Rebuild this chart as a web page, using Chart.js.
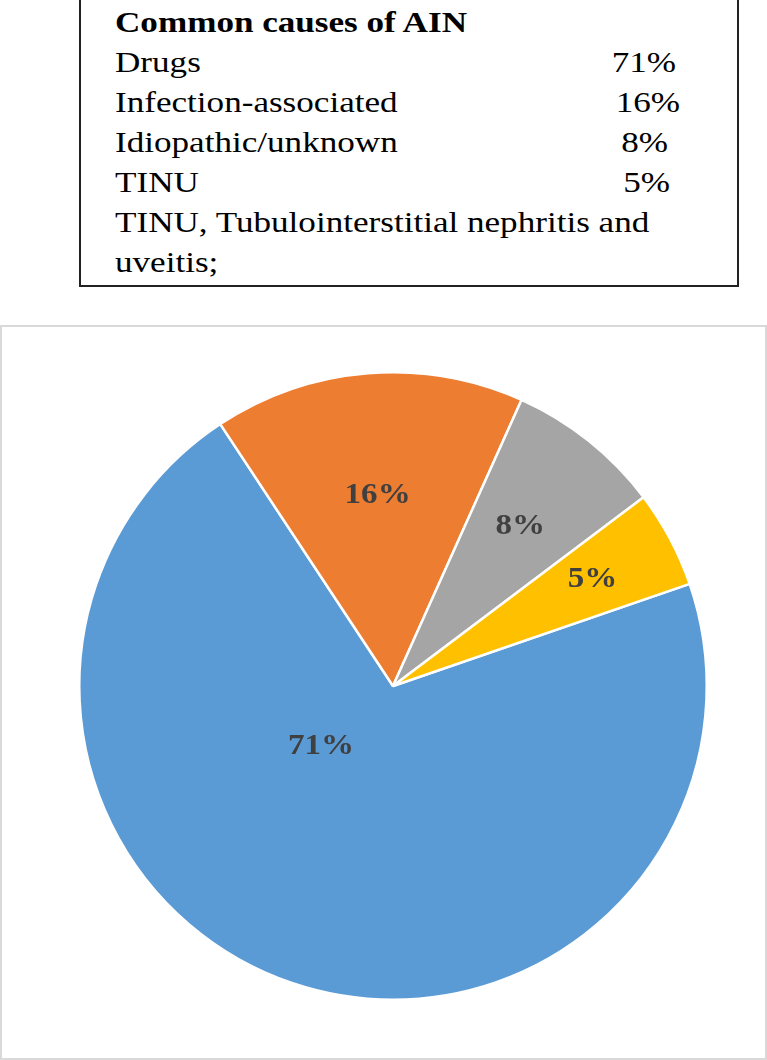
<!DOCTYPE html>
<html>
<head>
<meta charset="utf-8">
<script src="https://cdn.jsdelivr.net/npm/chart.js@4"></script>
<style>
  html, body { margin: 0; padding: 0; background: #fff; }
  body { width: 767px; height: 1060px; position: relative; overflow: hidden; font-family: "Liberation Serif", "Times New Roman", serif; }
  #table {
    position: absolute; left: 79px; top: -2px; width: 656px; height: 285px;
    border: 2px solid #222; color: #000; font-size: 30px; line-height: 40px;
  }
  #table .row { position: absolute; left: 34px; white-space: nowrap; transform: scaleX(1.17); transform-origin: left center; }
  #table .pct { position: absolute; white-space: nowrap; transform: scaleX(1.17); transform-origin: right center; }
  #frame {
    position: absolute; left: 0px; top: 325px; width: 763px; height: 731px;
    border: 2px solid #d9d9d9;
  }
  #pie { position: absolute; left: 0; top: 325px; }
</style>
</head>
<body>
<div id="table"></div>
<div id="frame"></div>
<canvas id="pie" width="767" height="735"></canvas>
<script>
const categories = ['Drugs', 'Infection-associated', 'Idiopathic/unknown', 'TINU'];
const shares = [71, 16, 8, 5];
const colors = ['#5b9bd5', '#ed7d31', '#a5a5a5', '#ffc000'];
const tableTitle = 'Common causes of AIN';
const footnote = ['TINU, Tubulointerstitial nephritis and', 'uveitis;'];

// the little table above the chart
const table = document.getElementById('table');
function addLine(text, top, bold) {
  const el = document.createElement('div');
  el.className = 'row';
  el.style.top = top + 'px';
  if (bold) el.style.fontWeight = 'bold';
  el.textContent = text;
  table.appendChild(el);
}
addLine(tableTitle, 2, true);
const pctRight = [61, 57, 69, 67];
categories.forEach((c, i) => {
  addLine(c, 42 + i * 40, false);
  const p = document.createElement('div');
  p.className = 'pct';
  p.style.top = (42 + i * 40) + 'px';
  p.style.right = pctRight[i] + 'px';
  p.textContent = shares[i] + '%';
  table.appendChild(p);
});
footnote.forEach((t, i) => addLine(t, 202 + i * 40, false));

// label placement: fraction of radius and angle shift per slice
const labelRadius = [0.30, 0.61, 0.65, 0.72];
const labelShift = [31, 0, 0, 0];

const sliceLabels = {
  id: 'sliceLabels',
  afterDatasetsDraw(chart) {
    const ctx = chart.ctx;
    const meta = chart.getDatasetMeta(0);
    ctx.save();
    ctx.font = 'bold 29px "Liberation Serif", serif';
    ctx.fillStyle = '#404040';
    ctx.textAlign = 'center';
    ctx.textBaseline = 'middle';
    meta.data.forEach((arc, i) => {
      const mid = (arc.startAngle + arc.endAngle) / 2 + labelShift[i] * Math.PI / 180;
      const r = arc.outerRadius * labelRadius[i];
      ctx.save();
      ctx.translate(arc.x + Math.cos(mid) * r, arc.y + Math.sin(mid) * r);
      ctx.scale(1.14, 1);
      ctx.fillText(shares[i] + '%', 0, 0);
      ctx.restore();
    });
    ctx.restore();
  }
};

new Chart(document.getElementById('pie'), {
  type: 'pie',
  data: {
    labels: categories,
    datasets: [{
      data: shares,
      backgroundColor: colors,
      borderColor: '#ffffff',
      borderWidth: 2.5
    }]
  },
  options: {
    responsive: false,
    animation: false,
    rotation: 71,
    layout: { padding: { left: 78, right: 59, top: 46, bottom: 59 } },
    plugins: {
      legend: { display: false },
      tooltip: { enabled: false }
    }
  },
  plugins: [sliceLabels]
});
</script>
</body>
</html>
